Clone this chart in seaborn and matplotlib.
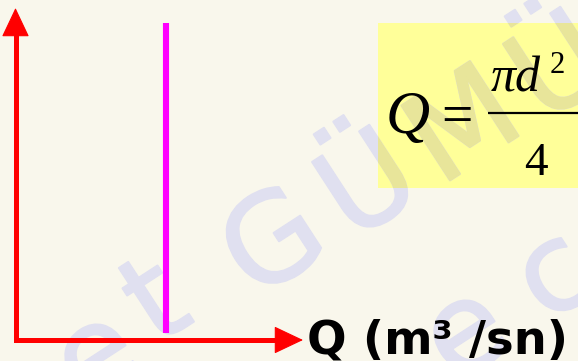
import numpy as np
import pandas as pd
import matplotlib
matplotlib.use("Agg")
import matplotlib.pyplot as plt
import matplotlib.patheffects as pe
import seaborn as sns
from matplotlib.patches import Rectangle

# schematic data: one vertical line at the design discharge
design_q = [0.525, 0.525]
line_height = [0.02, 0.955]
axis_label = "Q (m³ /sn)"
formula_lhs = "Q"
formula_num = "πd"
formula_exp = "2"
formula_den = "4"
# watermark letters (partly visible)
wm_line1 = ["e", "t", "G", "Ü", "M", "Ü", "Ş"]
wm_line2 = ["e", "c"]

W, H = 578, 361
BG = "#F9F7EC"
YELLOW = "#FFFF99"
WM_COLOR = "#E0E0F0"
WM_ON_YELLOW = "#E8E59A"


def fpx(x, y):
    # pixel position in the picture -> figure fraction
    return x / W, 1 - y / H


sns.set_theme(style="white")
plt.rcParams["font.family"] = ["DejaVu Sans"]

fig = plt.figure(figsize=(W / 100, H / 100), dpi=100, facecolor=BG)
ax = fig.add_axes([0, 0, 1, 1])
ax.set_facecolor(BG)

# yellow formula box
box = Rectangle(fpx(378, 188), 200 / W, 165 / H, transform=fig.transFigure,
                facecolor=YELLOW, edgecolor="none", zorder=1)
ax.add_patch(box)
clip_box = Rectangle(fpx(378, 188), 200 / W, 165 / H, transform=fig.transFigure)

# watermark, drawn letter by letter along a slanted baseline
wm_pos1 = [(98, 360), (158, 305), (276, 247), (371, 190), (466, 130), (562, 72), (655, 14)]
wm_pos2 = [(467, 336), (556, 278)]
for chars, pos in [(wm_line1, wm_pos1), (wm_line2, wm_pos2)]:
    for ch, (x, y) in zip(chars, pos):
        ax.text(*fpx(x, y), ch, transform=fig.transFigure, fontsize=88,
                color=WM_COLOR, rotation=33, rotation_mode="anchor",
                ha="center", va="center", zorder=2,
                path_effects=[pe.withStroke(linewidth=1.5, foreground=WM_COLOR)])
        t = ax.text(*fpx(x, y), ch, transform=fig.transFigure, fontsize=88,
                    color=WM_ON_YELLOW, rotation=33, rotation_mode="anchor",
                    ha="center", va="center", zorder=2.1, clip_on=True,
                    path_effects=[pe.withStroke(linewidth=1.5, foreground=WM_ON_YELLOW)])
        t.set_clip_path(clip_box)

# red axes with arrow heads
ax.plot([0, 0, 0.95], [0.95, 0, 0], color="red", lw=3.6,
        solid_joinstyle="miter", solid_capstyle="butt", zorder=3)
for tip, start in [((0, 1), (0, 0.9)), ((1, 0), (0.9, 0))]:
    ax.annotate("", xy=tip, xytext=start,
                arrowprops=dict(arrowstyle="-|>,head_length=1.9,head_width=0.9",
                                color="red", lw=0.8, shrinkA=0, shrinkB=0,
                                mutation_scale=10), zorder=3)

# magenta line
sns.lineplot(x=design_q, y=line_height, color="#FF00FF", lw=4.4,
             estimator=None, sort=False, ax=ax, zorder=3,
             solid_capstyle="butt")

# formula Q = pi d^2 / 4
serif = ["Liberation Serif", "DejaVu Serif"]
ax.text(*fpx(386, 133), formula_lhs, transform=fig.transFigure, family=serif,
        style="italic", fontsize=44, color="black", ha="left", va="baseline", zorder=4)
ax.text(*fpx(441, 133), "=", transform=fig.transFigure, family=serif,
        fontsize=40, color="black", ha="left", va="baseline", zorder=4)
ax.plot([488 / W, 1.0], [1 - 113 / H] * 2, transform=fig.transFigure,
        color="black", lw=1.6, zorder=4, solid_capstyle="butt")
ax.text(*fpx(491, 92), formula_num, transform=fig.transFigure, family=serif,
        style="italic", fontsize=36, color="black", ha="left", va="baseline", zorder=4)
ax.text(*fpx(550, 73), formula_exp, transform=fig.transFigure, family=serif,
        fontsize=22, color="black", ha="left", va="baseline", zorder=4)
ax.text(*fpx(536, 175), formula_den, transform=fig.transFigure, family=serif,
        fontsize=34, color="black", ha="center", va="baseline", zorder=4)

# axis label
ax.text(*fpx(307, 354), axis_label, transform=fig.transFigure, color="black",
        fontweight="bold", fontsize=33.5, ha="left", va="baseline", zorder=4)

# origin at (15.5, 340) px, arrow tips at x=303 px and y=8 px
ox, oy = 15.5, 340
sx, sy = 303 - ox, oy - 8
ax.set_xlim(-ox / sx, (W - ox) / sx)
ax.set_ylim(-(H - oy) / sy, oy / sy)
ax.axis("off")

fig.savefig("out.png", dpi=100, facecolor=BG)
